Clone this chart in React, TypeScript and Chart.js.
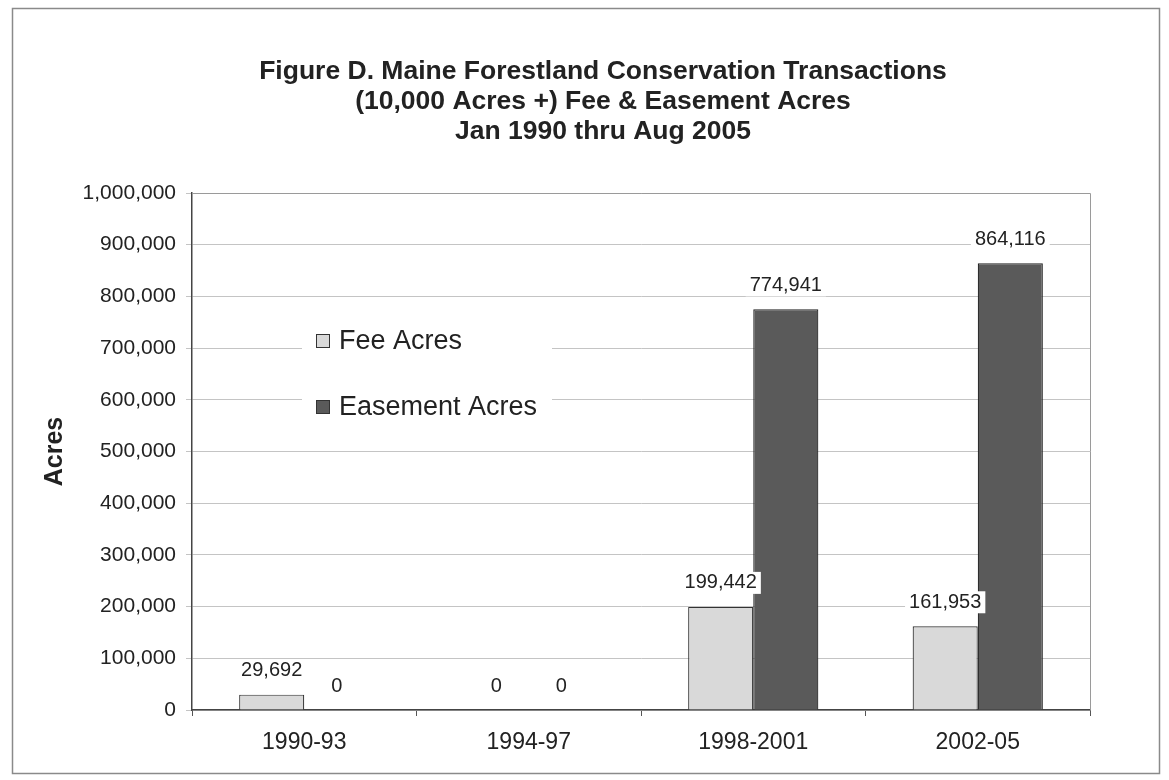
import React, { useEffect, useRef } from "react";
import { Chart, registerables } from "chart.js";

Chart.register(...registerables);

const categories = ["1990-93", "1994-97", "1998-2001", "2002-05"];
const feeAcres = [29692, 0, 199442, 161953];
const easementAcres = [0, 0, 774941, 864116];
const seriesNames = ["Fee Acres", "Easement Acres"];
const titleLines = [
  "Figure D. Maine Forestland Conservation Transactions",
  "(10,000 Acres +) Fee & Easement Acres",
  "Jan 1990 thru Aug 2005",
];
const yMax = 1000000;
const yStep = 100000;

const FONT = "'Liberation Sans', Arial, sans-serif";
const FEE_COLOR = "#d9d9d9";
const EASE_COLOR = "#5a5a5a";

const fmt = (v: number) => v.toLocaleString("en-US");

const framePlugin = {
  id: "frame",
  beforeDraw(chart: any) {
    const { ctx, width, height } = chart;
    ctx.save();
    ctx.fillStyle = "#ffffff";
    ctx.fillRect(0, 0, width, height);
    ctx.strokeStyle = "#8a8a8a";
    ctx.lineWidth = 1.5;
    ctx.strokeRect(12.5, 8.5, width - 22, height - 15);
    // title
    ctx.fillStyle = "#222222";
    ctx.font = `bold 26.5px ${FONT}`;
    ctx.textAlign = "center";
    ctx.textBaseline = "middle";
    titleLines.forEach((line, i) => {
      ctx.fillText(line, 603, 72 + i * 30);
    });
    ctx.restore();
  },
  afterDatasetsDraw(chart: any) {
    const { ctx, chartArea } = chart;
    ctx.save();
    // plot border top/right
    ctx.strokeStyle = "#9a9a9a";
    ctx.lineWidth = 1;
    ctx.beginPath();
    ctx.moveTo(chartArea.left, chartArea.top + 0.5);
    ctx.lineTo(chartArea.right + 0.5, chartArea.top + 0.5);
    ctx.lineTo(chartArea.right + 0.5, chartArea.bottom);
    ctx.stroke();

    // data labels
    ctx.font = `20px ${FONT}`;
    ctx.textAlign = "center";
    ctx.textBaseline = "middle";
    chart.data.datasets.forEach((ds: any, di: number) => {
      const meta = chart.getDatasetMeta(di);
      meta.data.forEach((el: any, i: number) => {
        const txt = fmt(ds.data[i]);
        const w = ctx.measureText(txt).width;
        const cy = el.y - 24;
        ctx.fillStyle = "#ffffff";
        ctx.fillRect(el.x - w / 2 - 4, cy - 11, w + 8, 22);
        ctx.fillStyle = "#222222";
        ctx.fillText(txt, el.x, cy);
      });
    });

    // legend
    const lx = chartArea.left + 110;
    const ly = chartArea.top + 128;
    ctx.fillStyle = "#ffffff";
    ctx.fillRect(lx, ly, 250, 110);
    const colors = [FEE_COLOR, EASE_COLOR];
    ctx.font = `27px ${FONT}`;
    ctx.textAlign = "left";
    seriesNames.forEach((name, i) => {
      const y = ly + 20 + i * 66;
      ctx.fillStyle = colors[i];
      ctx.fillRect(lx + 14, y - 7, 14, 14);
      ctx.strokeStyle = "#333333";
      ctx.lineWidth = 1;
      ctx.strokeRect(lx + 14.5, y - 6.5, 13, 13);
      ctx.fillStyle = "#222222";
      ctx.fillText(name, lx + 37, y + 1);
    });
    ctx.restore();
  },
};

export default function App() {
  const ref = useRef<HTMLCanvasElement>(null);
  useEffect(() => {
    document.body.style.margin = "0";
    const chart = new Chart(ref.current as HTMLCanvasElement, {
      type: "bar",
      data: {
        labels: categories,
        datasets: [
          {
            label: seriesNames[0],
            data: feeAcres,
            backgroundColor: FEE_COLOR,
            borderColor: "#333333",
            borderWidth: (c: any) => (c.raw === 0 ? 0 : 1.2),
            categoryPercentage: 0.58,
            barPercentage: 1,
          },
          {
            label: seriesNames[1],
            data: easementAcres,
            backgroundColor: EASE_COLOR,
            borderColor: "#222222",
            borderWidth: (c: any) => (c.raw === 0 ? 0 : 1.2),
            categoryPercentage: 0.58,
            barPercentage: 1,
          },
        ],
      },
      options: {
        animation: false,
        responsive: false,
        layout: { padding: { left: 40, right: 79, top: 193, bottom: 20 } },
        plugins: {
          legend: { display: false },
          tooltip: { enabled: false },
          title: { display: false },
        },
        scales: {
          x: {
            offset: true,
            grid: {
              offset: true,
              drawOnChartArea: false,
              drawTicks: true,
              tickLength: 6,
              color: "#555555",
            },
            border: { color: "#444444", width: 1.5 },
            ticks: {
              color: "#222222",
              font: { family: FONT, size: 23 },
              padding: 13,
            },
            afterFit: (s: any) => {
              s.height = 50;
            },
          },
          y: {
            min: 0,
            max: yMax,
            grid: { color: "#c4c4c4", tickLength: 6, lineWidth: 1 },
            border: { color: "#444444", width: 1.5 },
            ticks: {
              stepSize: yStep,
              color: "#222222",
              font: { family: FONT, size: 21 },
              padding: 10,
              callback: (v: any) => fmt(Number(v)),
            },
            title: {
              display: true,
              text: "Acres",
              color: "#222222",
              font: { family: FONT, size: 25, weight: "bold", lineHeight: 1.2 },
              padding: 0,
            },
            afterFit: (s: any) => {
              s.width = 152;
            },
          },
        },
      } as any,
      plugins: [framePlugin],
    });
    return () => chart.destroy();
  }, []);
  return (
    <div style={{ width: 1169, height: 780 }}>
      <canvas ref={ref} width={1169} height={780} style={{ display: "block" }} />
    </div>
  );
}
